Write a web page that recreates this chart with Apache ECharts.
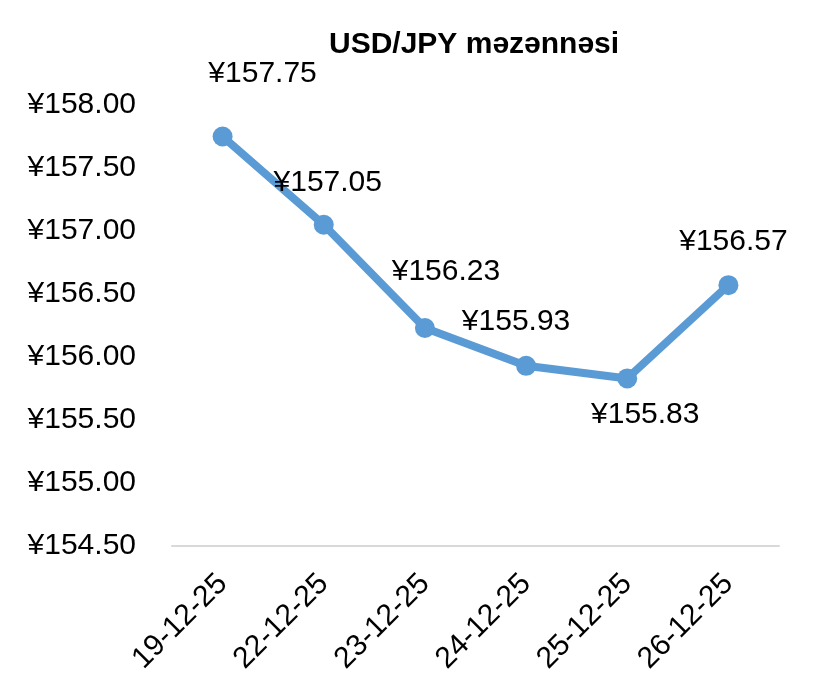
<!DOCTYPE html>
<html>
<head>
<meta charset="utf-8">
<script src="https://cdn.jsdelivr.net/npm/echarts@6/dist/echarts.min.js"></script>
<style>
  html, body { margin: 0; padding: 0; background: #fff; }
  #chart { width: 813px; height: 693px; }
</style>
</head>
<body>
<div id="chart"></div>
<script>
// data
var categories = ['19-12-25', '22-12-25', '23-12-25', '24-12-25', '25-12-25', '26-12-25'];
var rates = [157.75, 157.05, 156.23, 155.93, 155.83, 156.57];
var yTicks = { min: 154.5, max: 158, step: 0.5 };

// label placement relative to each marker (style only)
var labelOffsets = [[40, -63], [4, -42], [21, -56], [-10, -44], [18, 36], [5, -43]];

var font = 'Liberation Sans, Arial, sans-serif';

function yen(v) {
  return '¥' + Number(v).toFixed(2);
}

var chart = echarts.init(document.getElementById('chart'));

var option = {
  backgroundColor: '#fff',
  animation: false,
  title: {
    text: 'USD/JPY məzənnəsi',
    left: 324,
    top: 25,
    textStyle: {
      fontFamily: font,
      fontSize: 30,
      fontWeight: 'bold',
      color: '#000'
    }
  },
  grid: {
    left: 172,
    right: 34,
    top: 105,
    bottom: 147
  },
  xAxis: {
    type: 'category',
    data: categories,
    boundaryGap: true,
    axisLine: { lineStyle: { color: '#d9d9d9', width: 2 } },
    axisTick: { show: false },
    axisLabel: {
      rotate: 45,
      margin: 33,
      fontFamily: font,
      fontSize: 30,
      color: '#000'
    }
  },
  yAxis: {
    type: 'value',
    min: yTicks.min,
    max: yTicks.max,
    interval: yTicks.step,
    axisLine: { show: false },
    axisTick: { show: false },
    splitLine: { show: false },
    axisLabel: {
      margin: 36,
      fontFamily: font,
      fontSize: 30,
      color: '#000',
      formatter: yen
    }
  },
  series: [
    {
      type: 'line',
      data: rates.map(function (v, i) {
        return {
          value: v,
          label: { offset: labelOffsets[i] }
        };
      }),
      symbol: 'circle',
      symbolSize: 20,
      lineStyle: { color: '#5b9bd5', width: 8 },
      itemStyle: { color: '#5b9bd5' },
      label: {
        show: true,
        position: 'inside',
        align: 'center',
        verticalAlign: 'middle',
        fontFamily: font,
        fontSize: 30,
        color: '#000',
        formatter: function (p) { return yen(p.value); }
      }
    }
  ]
};

chart.setOption(option);
</script>
</body>
</html>
